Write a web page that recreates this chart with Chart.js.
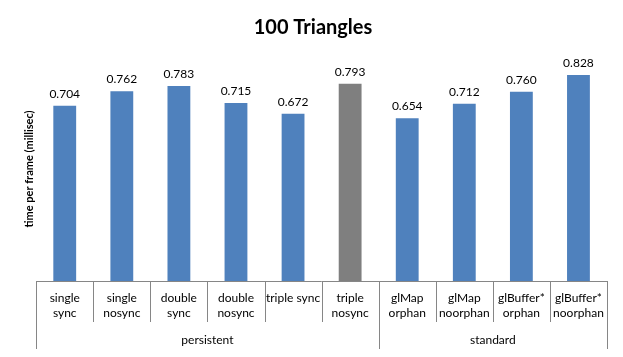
<!DOCTYPE html>
<html>
<head>
<meta charset="utf-8">
<script src="https://cdn.jsdelivr.net/npm/chart.js@4/dist/chart.umd.min.js"></script>
<style>
  html, body { margin: 0; padding: 0; background: #fff; }
  #wrap { width: 623px; height: 357px; position: relative; }
</style>
</head>
<body>
<div id="wrap"><canvas id="c"></canvas></div>
<script>
const categories = [
  ['single', 'sync'], ['single', 'nosync'], ['double', 'sync'], ['double', 'nosync'],
  ['triple sync'], ['triple', 'nosync'],
  ['glMap', 'orphan'], ['glMap', 'noorphan'], ['glBuffer*', 'orphan'], ['glBuffer*', 'noorphan']
];
const values = [0.704, 0.762, 0.783, 0.715, 0.672, 0.793, 0.654, 0.712, 0.760, 0.828];
const groupNames = ['persistent', 'standard'];
const groupSizes = [6, 4];
const highlightIndex = 5;

const BLUE = '#4F81BD';
const GRAY = '#7F7F7F';
const AXIS = '#868686';
const barColors = values.map((v, i) => i === highlightIndex ? GRAY : BLUE);

Chart.defaults.font.family = 'Lato';
Chart.defaults.color = '#000';

const labelPlugin = {
  id: 'valueLabels',
  afterDatasetsDraw(chart) {
    const ctx = chart.ctx;
    const meta = chart.getDatasetMeta(0);
    ctx.save();
    ctx.font = '12px Lato';
    ctx.fillStyle = '#000';
    ctx.textAlign = 'center';
    ctx.textBaseline = 'middle';
    meta.data.forEach((el, i) => {
      ctx.fillText(values[i].toFixed(3), el.x, el.y - 12);
    });
    ctx.restore();
  }
};

const groupPlugin = {
  id: 'groupAxis',
  afterDraw(chart) {
    const { ctx, chartArea } = chart;
    const n = categories.length;
    const w = (chartArea.right - chartArea.left) / n;
    const y0 = chartArea.bottom;
    ctx.save();
    ctx.strokeStyle = AXIS;
    ctx.lineWidth = 1;
    ctx.beginPath();
    ctx.moveTo(chartArea.left, Math.round(y0) + 0.5);
    ctx.lineTo(chartArea.right, Math.round(y0) + 0.5);
    for (let i = 0; i <= n; i++) {
      const px = Math.round(chartArea.left + i * w) + 0.5;
      ctx.moveTo(px, y0);
      ctx.lineTo(px, y0 + 41);
    }
    let start = 0;
    const ends = [0];
    groupSizes.forEach(s => { start += s; ends.push(start); });
    ends.forEach(e => {
      const px = Math.round(chartArea.left + e * w) + 0.5;
      ctx.moveTo(px, y0);
      ctx.lineTo(px, y0 + 68);
    });
    ctx.stroke();
    ctx.font = '12px Lato';
    ctx.fillStyle = '#000';
    ctx.textAlign = 'center';
    ctx.textBaseline = 'middle';
    groupNames.forEach((g, gi) => {
      const cx = chartArea.left + (ends[gi] + ends[gi + 1]) / 2 * w;
      ctx.fillText(g, cx, y0 + 59);
    });
    ctx.restore();
  }
};

new Chart(document.getElementById('c'), {
  type: 'bar',
  data: {
    labels: categories,
    datasets: [{
      data: values,
      backgroundColor: barColors,
      borderWidth: 0,
      categoryPercentage: 1,
      barPercentage: 0.4
    }]
  },
  options: {
    responsive: true,
    maintainAspectRatio: false,
    animation: false,
    layout: { padding: { left: 19, right: 16, top: 0, bottom: 26 } },
    plugins: {
      legend: { display: false },
      tooltip: { enabled: false },
      title: {
        display: true,
        text: '100 Triangles',
        font: { family: 'Lato', size: 20, weight: 'bold' },
        color: '#000',
        padding: { top: 16, bottom: 17 }
      }
    },
    scales: {
      x: {
        grid: { display: false, drawTicks: false, tickLength: 0 },
        border: { display: false },
        ticks: { font: { size: 12, lineHeight: 1.25 }, color: '#000', padding: 10, maxRotation: 0, autoSkip: false }
      },
      y: {
        min: 0,
        max: 0.9,
        grid: { display: false, drawTicks: false, tickLength: 0 },
        border: { display: false },
        ticks: { display: false },
        title: {
          display: true,
          text: 'time per frame (millisec)',
          font: { size: 11, weight: 'bold' },
          color: '#000',
          padding: { top: 4, bottom: 0 }
        }
      }
    }
  },
  plugins: [labelPlugin, groupPlugin]
});
</script>
</body>
</html>
